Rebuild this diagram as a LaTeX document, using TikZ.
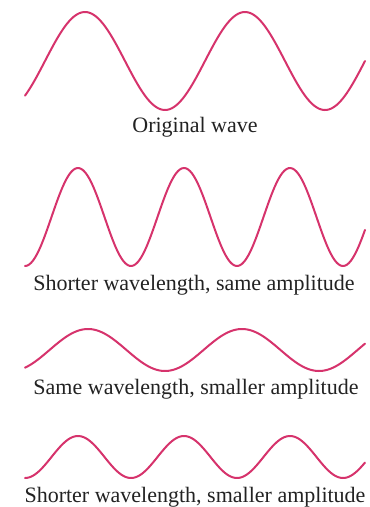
\documentclass[tikz,border=0pt]{standalone}
\usepackage{fontspec}
\setmainfont{Liberation Serif}
\usepackage{xcolor}
\definecolor{cWave}{HTML}{D6336C}
\definecolor{cText}{HTML}{222222}
\tikzset{
  wave-line/.style={draw=cWave,line width=2pt,line cap=round,smooth,samples=170,domain=25:365},
  wave-label/.style={text=cText,font=\fontsize{22}{26}\selectfont,inner sep=0pt},
}

\begin{document}
\begin{tikzpicture}[x=1pt,y=-1pt]
  \useasboundingbox (0,0) rectangle (370,507);
  % centre, amplitude, wavelength, first crest
  \draw[wave-line] plot (\x,{61-49*cos((\x-85)/160*360)});
  \draw[wave-line] plot (\x,{217-49*cos((\x-78)/106*360)});
  \draw[wave-line] plot (\x,{350-21*cos((\x-88)/154*360)});
  \draw[wave-line] plot (\x,{457-21*cos((\x-78)/106*360)});
  \node[wave-label] (orig) at (195,127) {Original wave};
  \node[wave-label] (short) at (194,285) {Shorter wavelength, same amplitude};
  \node[wave-label] (small) at (196,389) {Same wavelength, smaller amplitude};
  \node[wave-label] (both) at (195,497) {Shorter wavelength, smaller amplitude};
\end{tikzpicture}
\end{document}
